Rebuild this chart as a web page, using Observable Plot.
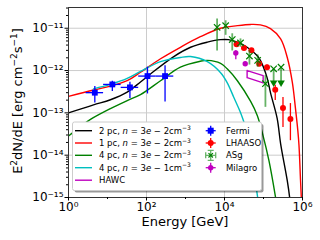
<!DOCTYPE html>
<html><head><meta charset="utf-8">
<script src="https://cdn.jsdelivr.net/npm/d3@7"></script>
<script src="https://cdn.jsdelivr.net/npm/@observablehq/plot@0.6"></script>
<style>
html,body{margin:0;padding:0;background:#fff;}
#chart{width:320px;height:240px;overflow:hidden;}
</style></head><body><div id="chart"></div>
<script>
// ---- axis ticks ----
const xMajor = [1, 1e2, 1e4, 1e6];
const xMinor = [1e1, 1e3, 1e5];
const yMajor = [1e-15, 1e-14, 1e-13, 1e-12, 1e-11];
const yMinor = [2e-15,3e-15,4e-15,5e-15,6e-15,7e-15,8e-15,9e-15,
                2e-14,3e-14,4e-14,5e-14,6e-14,7e-14,8e-14,9e-14,
                2e-13,3e-13,4e-13,5e-13,6e-13,7e-13,8e-13,9e-13,
                2e-12,3e-12,4e-12,5e-12,6e-12,7e-12,8e-12,9e-12,
                2e-11,3e-11];

// ---- model curves (E in GeV, E^2 dN/dE in erg cm^-2 s^-1) ----
const blackE = [1, 4.38, 11.9, 32, 70.1, 126, 501, 1350, 3630, 7940, 12600, 21400, 38000, 69200, 83200, 123000, 151000, 224000, 275000, 407000, 468000, 513000];
const blackF = [1.0e-13, 1.55e-13, 2.04e-13, 3.09e-13, 5.37e-13, 8.3e-13, 2.14e-12, 3.55e-12, 4.68e-12, 5.37e-12, 5.37e-12, 4.68e-12, 3.55e-12, 2.24e-12, 1.74e-12, 6.9e-13, 3.0e-13, 7.4e-14, 1.86e-14, 2.5e-15, 1e-15, 3.7e-16];
const redE = [1, 4.46, 11.9, 32, 70.1, 229, 741, 2400, 7940, 21400, 46800, 83200, 151000, 275000, 407000, 550000, 661000, 759000, 813000, 891000, 933000, 977000];
const redF = [2.45e-13, 3.47e-13, 4.27e-13, 5.75e-13, 9.1e-13, 1.9e-12, 3.55e-12, 6.3e-12, 1.0e-11, 1.15e-11, 1.23e-11, 1.2e-11, 9.8e-12, 5.6e-12, 2.04e-12, 5.2e-13, 1.26e-13, 3.8e-14, 1.7e-14, 2.5e-15, 1e-15, 4e-16];
const greenE = [1, 2.03, 3.66, 11.9, 32, 70.1, 229, 741, 2400, 3630, 7940, 11700, 21400, 46800, 69200, 95500, 138000, 204000, 229000];
const greenF = [2.83e-14, 4.74e-14, 7.0e-14, 1.26e-13, 1.95e-13, 2.7e-13, 5.75e-13, 1.2e-12, 1.66e-12, 1.74e-12, 1.48e-12, 1.1e-12, 5.75e-13, 1.86e-13, 8.7e-14, 3.1e-14, 7.4e-15, 1e-15, 5e-16];
const cyanE = [4.38, 11.9, 32, 70.1, 229, 741, 1350, 3630, 7940, 11700, 17400, 25700, 38000, 51300, 70800, 79400];
const cyanF = [3.7e-13, 4.7e-13, 6.5e-13, 9.5e-13, 1.62e-12, 2.04e-12, 2.14e-12, 1.62e-12, 8.9e-13, 5.2e-13, 2.3e-13, 1.02e-13, 3.4e-14, 7.4e-15, 1e-15, 4e-16];

// ---- HAWC butterfly ----
const hawcE = [38000, 98000];
const hawcUpper = [1.0e-12, 7.6e-13];
const hawcLower = [6.8e-13, 5.1e-13];

// ---- Fermi ----
const fermiE   = [4.73, 13.3, 37.6, 106, 299];
const fermiELo = [2.82, 7.94, 22.4, 63.1, 178];
const fermiEHi = [7.94, 22.4, 63.1, 178, 501];
const fermiF   = [3.0e-13, 4.7e-13, 4.0e-13, 7.4e-13, 7.4e-13];
const fermiFLo = [1.7e-13, 3.2e-13, 2.2e-13, 2.8e-13, 1.8e-13];
const fermiFHi = [4.2e-13, 5.6e-13, 5.3e-13, 1.2e-12, 1.3e-12];

// ---- LHAASO ----
const lhaasoE   = [20400, 31600, 49000, 77600, 123000, 200000, 316000, 490000];
const lhaasoF   = [4.2e-12, 3.4e-12, 3.0e-12, 1.45e-12, 1.2e-12, 3.5e-13, 1.3e-13, 7.2e-14];
const lhaasoFLo = [3.8e-12, 3.1e-12, 2.7e-12, 1.3e-12, 1.05e-12, 1.95e-13, 4.5e-14, 2.2e-14];
const lhaasoFHi = [4.6e-12, 3.7e-12, 3.3e-12, 1.6e-12, 1.35e-12, 4.5e-13, 2.3e-13, 1.66e-13];

// ---- ASgamma ----
const asgE   = [6460, 10700, 15800, 25700, 43600, 70800, 112000];
const asgF   = [1.05e-11, 1.15e-11, 5.4e-12, 4.5e-12, 2.2e-12, 1.74e-12, 4.9e-13];
const asgFLo = [2.9e-12, 6.8e-12, 2.9e-12, 3.55e-12, 1.35e-12, 1.2e-12, 1.35e-13];
const asgFHi = [1.66e-11, 1.5e-11, 7.4e-12, 5.6e-12, 2.95e-12, 2.34e-12, 7.6e-13];
const asgUlE  = [182000, 282000];
const asgUlF  = [1.1e-12, 1.2e-12];
const asgUlTo = [5.2e-13, 5.2e-13];

// ---- Milagro ----
const milagroE   = [19500, 34000];
const milagroF   = [2.6e-12, 1.45e-12];
const milagroFLo = [1.8e-12, 1.3e-12];
const milagroFHi = [2.95e-12, 1.6e-12];

// ---- legend labels ----
const modelLabels = [["2","2"],["1","2"],["4","2"],["4","1"]];
const modelColors = ["black", "red", "green", "#00bfbf"];
const hawcColor = "#bf00bf";
const pointLabels = ["Fermi", "LHAASO", "ASg", "Milagro"];

// ---- build tables ----
const rows = (E, F) => E.map((e, i) => ({E: e, F: F[i]}));
const curves = [rows(blackE, blackF), rows(redE, redF), rows(greenE, greenF), rows(cyanE, cyanF)];
const hawcPoly = [
  {E: hawcE[0], F: hawcUpper[0]}, {E: hawcE[1], F: hawcUpper[1]},
  {E: hawcE[1], F: hawcLower[1]}, {E: hawcE[0], F: hawcLower[0]},
  {E: hawcE[0], F: hawcUpper[0]}
];
const fermi = fermiE.map((e, i) => ({E: e, lo: fermiELo[i], hi: fermiEHi[i], F: fermiF[i], fl: fermiFLo[i], fh: fermiFHi[i]}));
const lhaaso = lhaasoE.map((e, i) => ({E: e, F: lhaasoF[i], fl: lhaasoFLo[i], fh: lhaasoFHi[i]}));
const asg = asgE.map((e, i) => ({E: e, F: asgF[i], fl: asgFLo[i], fh: asgFHi[i]}));
const asgUl = asgUlE.map((e, i) => ({E: e, F: asgUlF[i], to: asgUlTo[i]}));
const milagro = milagroE.map((e, i) => ({E: e, F: milagroF[i], fl: milagroFLo[i], fh: milagroFHi[i]}));

const supMap = {"-":"\u207B","0":"\u2070","1":"\u00B9","2":"\u00B2","3":"\u00B3","4":"\u2074","5":"\u2075","6":"\u2076","7":"\u2077","8":"\u2078","9":"\u2079"};
const fmt = d => "10" + String(Math.round(Math.log10(d))).replace(/[-0-9]/g, c => supMap[c]);

const chart = Plot.plot({
  width: 320, height: 240,
  marginTop: 7, marginLeft: 68, marginRight: 18, marginBottom: 43,
  style: {fontFamily: "DejaVu Sans", fontSize: "12px", background: "white", color: "black"},
  x: {type: "log", domain: [1, 1e6]},
  y: {type: "log", domain: [1e-15, 3.09e-11]},
  marks: [
    Plot.ruleX(xMajor.slice(1, -1), {stroke: "#cccccc", strokeWidth: 1}),
    Plot.ruleY(yMajor.slice(1), {stroke: "#cccccc", strokeWidth: 1}),
    ...curves.map((c, i) => Plot.line(c, {x: "E", y: "F", stroke: modelColors[i], strokeWidth: 1.4, curve: "catmull-rom", clip: true})),
    Plot.line(hawcPoly, {x: "E", y: "F", stroke: hawcColor, strokeWidth: 1.4}),
    // Fermi
    Plot.ruleY(fermi, {y: "F", x1: "lo", x2: "hi", stroke: "blue", strokeWidth: 1.3}),
    Plot.ruleX(fermi, {x: "E", y1: "fl", y2: "fh", stroke: "blue", strokeWidth: 1.3}),
    Plot.dot(fermi, {x: "E", y: "F", symbol: "square", fill: "blue", r: 3.3}),
    // LHAASO
    Plot.ruleX(lhaaso, {x: "E", y1: "fl", y2: "fh", stroke: "red", strokeWidth: 1.3}),
    Plot.dot(lhaaso, {x: "E", y: "F", fill: "red", r: 3}),
    // ASg
    Plot.ruleX(asg, {x: "E", y1: "fl", y2: "fh", stroke: "green", strokeOpacity: 0.6, strokeWidth: 1.8}),
    Plot.dot(asg, {x: "E", y: "F", symbol: "times", stroke: "green", strokeWidth: 1.2, r: 3}),
    Plot.ruleX(asgUl, {x: "E", y1: "F", y2: "to", stroke: "green", strokeOpacity: 0.6, strokeWidth: 1.8}),
    Plot.dot(asgUl, {x: "E", y: "F", symbol: "times", stroke: "green", strokeWidth: 1.2, r: 3}),
    Plot.dot(asgUl, {x: "E", y: "to", symbol: "triangle", rotate: 180, fill: "green", r: 2.8}),
    // Milagro
    Plot.ruleX(milagro, {x: "E", y1: "fl", y2: "fh", stroke: hawcColor, strokeWidth: 1.3}),
    Plot.dot(milagro, {x: "E", y: "F", fill: hawcColor, r: 2.7}),
    Plot.frame({stroke: "#333", strokeWidth: 1}),
    Plot.axisX({ticks: xMajor, tickFormat: fmt, tickSize: 3.5, tickPadding: 1.5, label: null, fontSize: 12}),
    Plot.axisX({ticks: xMinor, tickFormat: () => "", tickSize: 2, label: null}),
    Plot.axisY({ticks: yMajor, tickFormat: fmt, tickSize: 3.5, tickPadding: 1.5, label: null, fontSize: 12}),
    Plot.axisY({ticks: yMinor, tickFormat: () => "", tickSize: 2, label: null})
  ]
});
document.getElementById("chart").appendChild(chart);

// ---- axis titles ----
const svg = d3.select(chart);
svg.append("text").attr("x", 185).attr("y", 226).attr("text-anchor", "middle")
  .attr("font-family", "DejaVu Sans").attr("font-size", 13).style("fill", "black").text("Energy [GeV]");
const yl = svg.append("text").attr("transform", "translate(22,101) rotate(-90)").attr("text-anchor", "middle")
  .attr("font-family", "DejaVu Sans").attr("font-size", 13).style("fill", "black");
yl.append("tspan").text("E");
yl.append("tspan").attr("dy", -5).attr("font-size", 9).text("2");
yl.append("tspan").attr("dy", 5).text("dN/dE [erg cm");
yl.append("tspan").attr("dy", -5).attr("font-size", 9).text("\u22122");
yl.append("tspan").attr("dy", 5).text("s");
yl.append("tspan").attr("dy", -5).attr("font-size", 9).text("\u22121");
yl.append("tspan").attr("dy", 5).text("]");

// ---- legend ----
const lg = svg.append("g").attr("font-family", "DejaVu Sans").attr("font-size", 8.5).attr("text-anchor", "start");
lg.append("rect").attr("x", 74.5).attr("y", 124).attr("width", 189).attr("height", 68.5).attr("rx", 2)
  .style("fill", "#000000").style("fill-opacity", 0.4).style("stroke", "none");
lg.append("rect").attr("x", 72.5).attr("y", 122).attr("width", 189).attr("height", 68.5).attr("rx", 2)
  .style("fill", "#ffffff").style("fill-opacity", 1).style("stroke", "#cccccc").style("stroke-width", 1);
const rowY = [130.7, 143, 155.3, 167.7, 180.2];
modelLabels.forEach((m, i) => {
  const y = rowY[i];
  lg.append("line").attr("x1", 75).attr("x2", 92).attr("y1", y).attr("y2", y).style("stroke", modelColors[i]).style("stroke-width", 1.4);
  const t = lg.append("text").attr("x", 99).attr("y", y + 3).attr("text-anchor", "start").style("fill", "black");
  t.append("tspan").text(m[0] + " pc, ");
  t.append("tspan").attr("font-style", "italic").text("n");
  t.append("tspan").text(" = 3");
  t.append("tspan").attr("font-style", "italic").text("e");
  t.append("tspan").text(" \u2212 " + m[1] + "cm");
  t.append("tspan").attr("dy", -3.5).attr("font-size", 6).text("\u22123");
});
lg.append("line").attr("x1", 75).attr("x2", 92).attr("y1", rowY[4]).attr("y2", rowY[4]).style("stroke", hawcColor).style("stroke-width", 1.4);
lg.append("text").attr("x", 99).attr("y", rowY[4] + 3).attr("text-anchor", "start").style("fill", "black").text("HAWC");

const mx = 210.7;
function errMark(y, color, sw) {
  lg.append("line").attr("x1", mx - 5).attr("x2", mx + 5).attr("y1", y).attr("y2", y).style("stroke", color).style("stroke-width", sw);
  lg.append("line").attr("x1", mx).attr("x2", mx).attr("y1", y - 5).attr("y2", y + 5).style("stroke", color).style("stroke-width", sw);
}
errMark(rowY[0], "blue", 1.3);
lg.append("rect").attr("x", mx - 3).attr("y", rowY[0] - 3).attr("width", 6).attr("height", 6).style("fill", "blue");
errMark(rowY[1], "red", 1.3);
lg.append("circle").attr("cx", mx).attr("cy", rowY[1]).attr("r", 3).style("fill", "red");
// ASg
const ya = rowY[2];
const ga = lg.append("g").style("stroke", "green").style("stroke-opacity", 0.6).style("fill", "none");
ga.append("path").attr("d", `M${mx-5},${ya}H${mx+5}M${mx},${ya-5}V${ya+5}M${mx-3},${ya-5}H${mx+3}M${mx-3},${ya+5}H${mx+3}M${mx-5},${ya-3}V${ya+3}M${mx+5},${ya-3}V${ya+3}`).style("stroke-width", 1.3);
lg.append("path").attr("d", `M${mx-2.2},${ya-2.2}L${mx+2.2},${ya+2.2}M${mx-2.2},${ya+2.2}L${mx+2.2},${ya-2.2}`).style("stroke", "green").style("stroke-width", 1.2).style("fill", "none");
errMark(rowY[3], hawcColor, 1.3);
lg.append("circle").attr("cx", mx).attr("cy", rowY[3]).attr("r", 2.7).style("fill", hawcColor);
pointLabels.forEach((s, i) => lg.append("text").attr("x", 226).attr("y", rowY[i] + 3).attr("text-anchor", "start").style("fill", "black").text(s));
</script></body></html>
